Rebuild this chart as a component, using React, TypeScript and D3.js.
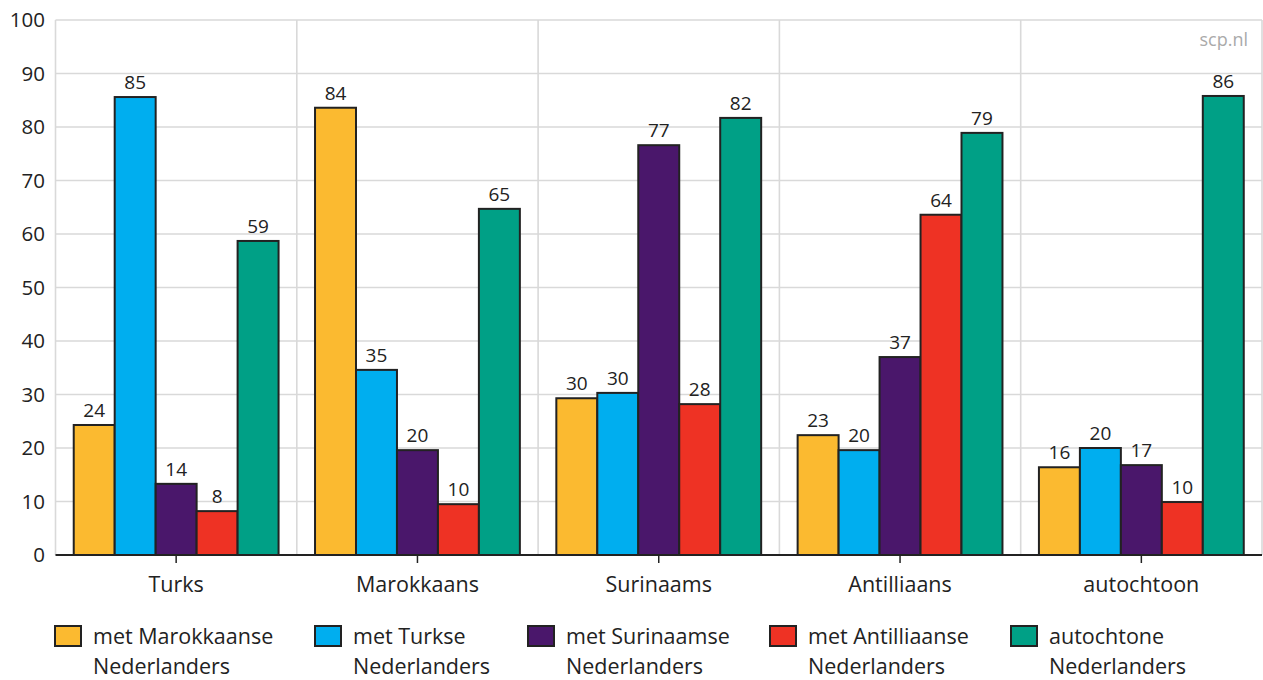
import React from "react";
import * as d3 from "d3";

const categories = ["Turks", "Marokkaans", "Surinaams", "Antilliaans", "autochtoon"];
const seriesNames = [
  ["met Marokkaanse", "Nederlanders"],
  ["met Turkse", "Nederlanders"],
  ["met Surinaamse", "Nederlanders"],
  ["met Antilliaanse", "Nederlanders"],
  ["autochtone", "Nederlanders"],
];
const seriesColors = ["#FBBA30", "#00AEEF", "#4A176B", "#EE3224", "#00A086"];
// values per category, in series order
const valMarokkaanse = [24.3, 83.6, 29.3, 22.4, 16.4];
const valTurkse = [85.6, 34.6, 30.3, 19.6, 20.0];
const valSurinaamse = [13.3, 19.6, 76.6, 37.0, 16.8];
const valAntilliaanse = [8.2, 9.5, 28.2, 63.6, 9.9];
const valAutochtone = [58.7, 64.7, 81.7, 78.9, 85.8];
const lblMarokkaanse = [24, 84, 30, 23, 16];
const lblTurkse = [85, 35, 30, 20, 20];
const lblSurinaamse = [14, 20, 77, 37, 17];
const lblAntilliaanse = [8, 10, 28, 64, 10];
const lblAutochtone = [59, 65, 82, 79, 86];
const yTicks = [0, 10, 20, 30, 40, 50, 60, 70, 80, 90, 100];

const values = [valMarokkaanse, valTurkse, valSurinaamse, valAntilliaanse, valAutochtone];
const labels = [lblMarokkaanse, lblTurkse, lblSurinaamse, lblAntilliaanse, lblAutochtone];

const FONT = "'Open Sans', 'Noto Sans', sans-serif";

export default function App() {
  const W = 1263, H = 680;
  const left = 55.5, right = 1262, top = 20, bottom = 555;
  const x0 = d3.scaleBand<string>().domain(categories).range([left, right]).paddingInner(0).paddingOuter(0);
  const x1 = d3.scaleBand<number>().domain(d3.range(5)).range([0, x0.bandwidth()]).paddingOuter(0.445).paddingInner(0);
  const y = d3.scaleLinear().domain([0, 100]).range([bottom, top]);
  const bounds = [...categories.map((c) => x0(c)!), right];
  const legendX = [55, 315, 528, 770, 1011];

  return (
    <svg width={W} height={H} style={{ position: "absolute", left: 0, top: 0, background: "#fff" }} fontFamily={FONT}>
      {yTicks.map((t) => (
        <g key={t}>
          {t > 0 && <line x1={left} x2={right} y1={y(t)} y2={y(t)} stroke="#d9d9d9" strokeWidth={1.6} />}
          <text x={45} y={y(t) + 7} textAnchor="end" fontSize={20.5} fill="#222">{t}</text>
        </g>
      ))}
      {bounds.map((b, i) => (
        <line key={i} x1={b} x2={b} y1={top} y2={bottom} stroke="#d9d9d9" strokeWidth={1.6} />
      ))}
      <text x={1248} y={46} textAnchor="end" fontSize={18} fill="#aaa">scp.nl</text>
      {categories.map((c, ci) => (
        <g key={c} transform={`translate(${x0(c)},0)`}>
          {values.map((s, si) => (
            <g key={si}>
              <rect x={x1(si)!} y={y(s[ci])} width={x1.bandwidth()} height={bottom - y(s[ci])}
                fill={seriesColors[si]} stroke="#222" strokeWidth={2} />
              <text x={x1(si)! + x1.bandwidth() / 2} y={y(s[ci]) - 8} textAnchor="middle" fontSize={19} fill="#222">
                {labels[si][ci]}
              </text>
            </g>
          ))}
          <line x1={x0.bandwidth() / 2} x2={x0.bandwidth() / 2} y1={bottom} y2={bottom + 8} stroke="#222" strokeWidth={1.5} />
          <text x={x0.bandwidth() / 2} y={592} textAnchor="middle" fontSize={21.5} fill="#222">{c}</text>
        </g>
      ))}
      <line x1={left} x2={right} y1={bottom} y2={bottom} stroke="#222" strokeWidth={2} />
      {seriesNames.map((n, i) => (
        <g key={i} transform={`translate(${legendX[i]},0)`}>
          <rect x={0} y={626} width={26} height={20} fill={seriesColors[i]} stroke="#222" strokeWidth={2} />
          <text x={38} y={644} fontSize={21.5} fill="#222">{n[0]}</text>
          <text x={38} y={674} fontSize={21.5} fill="#222">{n[1]}</text>
        </g>
      ))}
    </svg>
  );
}
